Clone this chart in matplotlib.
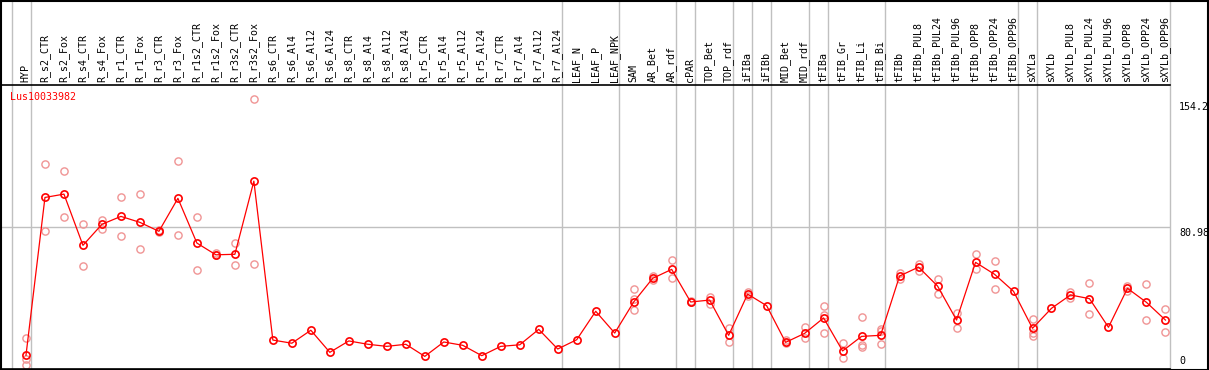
import numpy as np
import matplotlib
matplotlib.use('Agg')
from matplotlib import pyplot as plt
from matplotlib.patches import Rectangle

# sample names, in plot order
samples = ['HYP', 'R_s2_CTR', 'R_s2_Fox', 'R_s4_CTR', 'R_s4_Fox', 'R_r1_CTR', 'R_r1_Fox',
           'R_r3_CTR', 'R_r3_Fox', 'R_r1s2_CTR', 'R_r1s2_Fox', 'R_r3s2_CTR', 'R_r3s2_Fox',
           'R_s6_CTR', 'R_s6_Al4', 'R_s6_Al12', 'R_s6_Al24', 'R_s8_CTR', 'R_s8_Al4',
           'R_s8_Al12', 'R_s8_Al24', 'R_r5_CTR', 'R_r5_Al4', 'R_r5_Al12', 'R_r5_Al24',
           'R_r7_CTR', 'R_r7_Al4', 'R_r7_Al12', 'R_r7_Al24', 'LEAF_N', 'LEAF_P', 'LEAF_NPK',
           'SAM', 'AR_Bet', 'AR_rdf', 'cPAR', 'TOP_Bet', 'TOP_rdf', 'iFIBa', 'iFIBb',
           'MID_Bet', 'MID_rdf', 'tFIBa', 'tFIB_Gr', 'tFIB_Li', 'tFIB_Bi', 'tFIBb',
           'tFIBb_PUL8', 'tFIBb_PUL24', 'tFIBb_PUL96', 'tFIBb_OPP8', 'tFIBb_OPP24',
           'tFIBb_OPP96', 'sXYLa', 'sXYLb', 'sXYLb_PUL8', 'sXYLb_PUL24', 'sXYLb_PUL96',
           'sXYLb_OPP8', 'sXYLb_OPP24', 'sXYLb_OPP96']

# mean expression per sample
means = [7.8, 97.8, 99.7, 70.5, 82.5, 87.0, 83.6, 78.5, 97.3, 71.8, 65.1, 65.4, 107.1,
         16.5, 14.7, 22.1, 9.5, 16.0, 14.1, 12.9, 14.1, 7.2, 15.4, 13.5, 7.6, 12.9, 13.8,
         22.6, 11.4, 16.7, 32.9, 20.5,
         38.2, 51.7, 56.8, 38.2, 39.3, 19.2, 42.7, 36.1, 15.2, 20.3, 29.1, 10.3, 18.6, 19.2,
         53.0, 58.1, 47.3, 27.9, 60.8, 54.0, 44.3,
         23.2, 34.6, 42.2, 40.1, 23.8, 46.0, 38.0, 27.9]

# individual replicates (empty where none shown)
reps = [[17.5, 5.5, 2.4], [116.6, 78.5], [112.6, 86.4], [82.5, 58.5], [84.9, 79.8],
        [97.8, 75.6], [99.7, 68.4], [78.0, 79.0], [118.3, 76.2], [86.4, 56.2],
        [65.9, 65.0], [71.8, 59.1], [154.2, 59.7],
        [], [], [], [], [], [], [], [], [], [], [], [], [], [], [], [], [], [], [],
        [45.4, 39.9, 33.6], [53.0, 50.5], [61.9, 51.7], [38.5, 38.0], [41.2, 36.9],
        [23.4, 15.4], [43.9, 41.6], [], [16.4, 14.8], [23.8, 17.5], [35.7, 30.8, 20.5],
        [14.6, 6.1], [29.8, 13.7, 12.4], [23.0, 21.7, 14.1],
        [54.5, 51.1], [59.7, 55.8], [51.1, 42.6], [31.9, 23.5], [65.4, 56.8],
        [61.7, 45.4], [],
        [28.5, 20.3, 18.8], [], [43.9, 40.5], [48.8, 31.2], [], [47.5, 44.4],
        [48.4, 27.9], [34.4, 20.9]]

# last sample index of each group (gray separators)
group_ends = [-1, 0, 28, 31, 34, 35, 37, 38, 39, 41, 42, 45, 52, 53, 60]

ymax = 154.2
ymid = 80.98
gene = 'Lus10033982'

plt.rcParams['font.family'] = ['DejaVu Sans Mono']
fs = 7.2

fig = plt.figure(figsize=(12.09, 3.70), dpi=100)
ax = fig.add_axes([1 / 1209, 1 / 370, 1169 / 1209, 284 / 370])

x = np.arange(len(samples))
for i, r in enumerate(reps):
    if r:
        ax.plot([i] * len(r), r, 'o', ms=5.2, mfc='none', mec='#f09494', mew=1.0, zorder=2)
ax.plot(x, means, '-', color='#ff0000', lw=0.9, zorder=3)
ax.plot(x, means, 'o', ms=5.2, mfc='none', mec='#ff0000', mew=1.2, zorder=4)

ax.set_xlim(-1.315, 60.24)
ax.set_ylim(0, ymax * 1.05)
ax.axhline(ymid, color='#c0c0c0', lw=1.0, zorder=1)

tr = ax.get_xaxis_transform()
for g in group_ends:
    ax.plot([g + 0.24, g + 0.24], [0, 370 / 284], color='#c0c0c0', lw=1.0,
            transform=tr, clip_on=False, zorder=1)

for i, s in enumerate(samples):
    ax.annotate(s, (i, 1.0), xycoords=tr, xytext=(-0.5, 3), textcoords='offset pixels',
                rotation=90, ha='center', va='bottom', fontsize=fs)

ax.annotate(gene, (0, 1.0), xycoords='axes fraction', xytext=(9, -7),
            textcoords='offset pixels', ha='left', va='top', fontsize=fs, color='#ff0000')

ytr = ax.get_yaxis_transform()
ax.annotate('154.2', (1.0, ymax), xycoords=ytr, xytext=(9, -3), textcoords='offset pixels',
            ha='left', va='top', fontsize=fs)
ax.annotate('80.98', (1.0, ymid), xycoords=ytr, xytext=(9, -1), textcoords='offset pixels',
            ha='left', va='top', fontsize=fs)
ax.annotate('0', (1.0, 0), xycoords=ytr, xytext=(9, 3), textcoords='offset pixels',
            ha='left', va='bottom', fontsize=fs)

ax.set_xticks([])
ax.set_yticks([])
ax.spines['right'].set_visible(False)
for sp in ['left', 'top', 'bottom']:
    ax.spines[sp].set_linewidth(1.2)

fig.patches.append(Rectangle((0.5 / 1209, 0.5 / 370), 1207.5 / 1209, 369 / 370,
                             transform=fig.transFigure, fill=False, ec='black', lw=1.5))

fig.savefig('out.png', dpi=100)
